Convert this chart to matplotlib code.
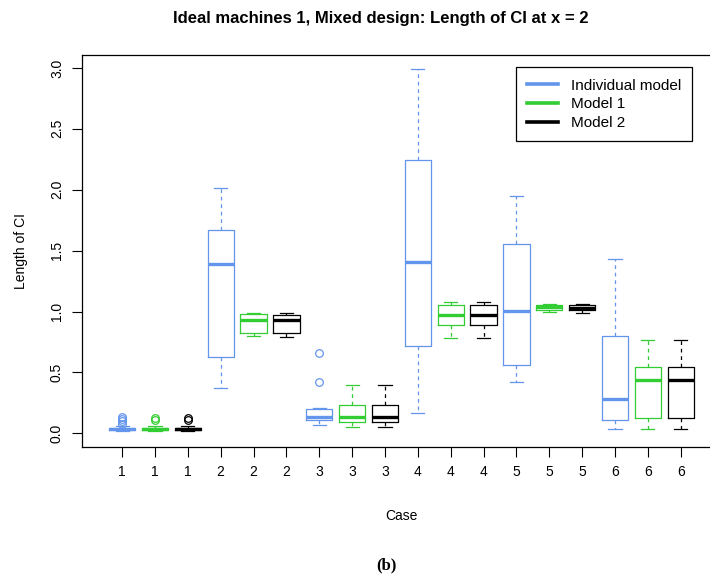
import matplotlib
matplotlib.use("Agg")
import matplotlib.pyplot as plt
from matplotlib.lines import Line2D

plt.rcParams['font.family'] = ['Liberation Sans', 'DejaVu Sans']

# box statistics, one list per series (cases 1..6)
cases = [1, 2, 3, 4, 5, 6]
models = ["Individual model", "Model 1", "Model 2"]
colors = ["#6495ED", "#32CD32", "black"]

ind_lo = [0.02, 0.37, 0.07, 0.17, 0.42, 0.035]
ind_q1 = [0.030, 0.63, 0.107, 0.72, 0.564, 0.112]
ind_med = [0.038, 1.39, 0.134, 1.405, 1.008, 0.285]
ind_q3 = [0.045, 1.67, 0.203, 2.24, 1.553, 0.795]
ind_hi = [0.06, 2.01, 0.21, 2.99, 1.945, 1.435]
ind_fl = [[0.08, 0.10, 0.12, 0.135], [], [0.42, 0.663], [], [], []]

m1_lo = [0.02, 0.80, 0.052, 0.786, 0.992, 0.033]
m1_q1 = [0.030, 0.82, 0.096, 0.893, 1.014, 0.129]
m1_med = [0.038, 0.93, 0.134, 0.97, 1.033, 0.441]
m1_q3 = [0.045, 0.978, 0.236, 1.055, 1.05, 0.545]
m1_hi = [0.06, 0.99, 0.397, 1.074, 1.063, 0.767]
m1_fl = [[0.11, 0.125], [], [], [], [], []]

m2_lo = [0.02, 0.79, 0.052, 0.786, 0.99, 0.033]
m2_q1 = [0.030, 0.82, 0.096, 0.893, 1.012, 0.129]
m2_med = [0.038, 0.93, 0.134, 0.97, 1.03, 0.441]
m2_q3 = [0.045, 0.975, 0.236, 1.055, 1.05, 0.545]
m2_hi = [0.06, 0.99, 0.397, 1.074, 1.063, 0.767]
m2_fl = [[0.11, 0.125], [], [], [], [], []]

series = [
    (ind_lo, ind_q1, ind_med, ind_q3, ind_hi, ind_fl),
    (m1_lo, m1_q1, m1_med, m1_q3, m1_hi, m1_fl),
    (m2_lo, m2_q1, m2_med, m2_q3, m2_hi, m2_fl),
]

fig = plt.figure(figsize=(7.1, 5.79), dpi=100)
ax = fig.add_axes([82 / 710, 1 - 446.7 / 579, 638.8 / 710, 392.2 / 579])

tick_labels = []
for ci, case in enumerate(cases):
    for mi, (lo, q1, med, q3, hi, fl) in enumerate(series):
        pos = ci * 3 + mi + 1
        tick_labels.append(str(case))
        stats = [dict(whislo=lo[ci], q1=q1[ci], med=med[ci], q3=q3[ci],
                      whishi=hi[ci], fliers=fl[ci])]
        c = colors[mi]
        ax.bxp(stats, positions=[pos], widths=0.8, capwidths=0.4,
               showfliers=True,
               boxprops=dict(color=c, lw=0.9),
               whiskerprops=dict(color=c, lw=0.9, dashes=(3, 3)),
               capprops=dict(color=c, lw=0.9),
               medianprops=dict(color=c, lw=2.4, solid_capstyle='butt'),
               flierprops=dict(marker='o', markerfacecolor='none',
                               markeredgecolor=c, markersize=5.5,
                               markeredgewidth=0.9))

ax.set_xlim(-0.22, 19.22)
ax.set_ylim(-0.11, 3.11)
ax.set_xticks(range(1, 19))
ax.set_xticklabels(tick_labels, fontsize=10)
ax.set_yticks([0, 0.5, 1.0, 1.5, 2.0, 2.5, 3.0])
ax.set_yticklabels(["0.0", "0.5", "1.0", "1.5", "2.0", "2.5", "3.0"],
                   fontsize=10, rotation=90, va='center')
ax.tick_params(length=7, width=0.8, pad=6)
for sp in ax.spines.values():
    sp.set_linewidth(0.9)

ax.set_xlabel("Case", fontsize=10, labelpad=22)
ax.set_ylabel("Length of CI", fontsize=10, labelpad=16)

handles = [Line2D([], [], color=c, lw=2.6) for c in colors]
leg = ax.legend(handles, models, loc='upper left',
                bbox_to_anchor=(515.7 / 710, 1 - 67.3 / 579),
                bbox_transform=fig.transFigure, fontsize=11,
                fancybox=False, framealpha=1, edgecolor='black',
                handlelength=2.0, handletextpad=0.85, labelspacing=0.3,
                borderpad=0.75, borderaxespad=0)
leg.get_frame().set_linewidth(0.9)

fig.text(381 / 710, 1 - 18 / 579,
         "Ideal machines 1, Mixed design: Length of CI at x = 2",
         ha='center', va='center', fontsize=12, fontweight='bold')
fig.text(386 / 710, 1 - 565 / 579, "(b)", ha='center', va='center',
         fontsize=12, fontweight='bold', family='Liberation Serif')

fig.savefig("out.png", dpi=100)
